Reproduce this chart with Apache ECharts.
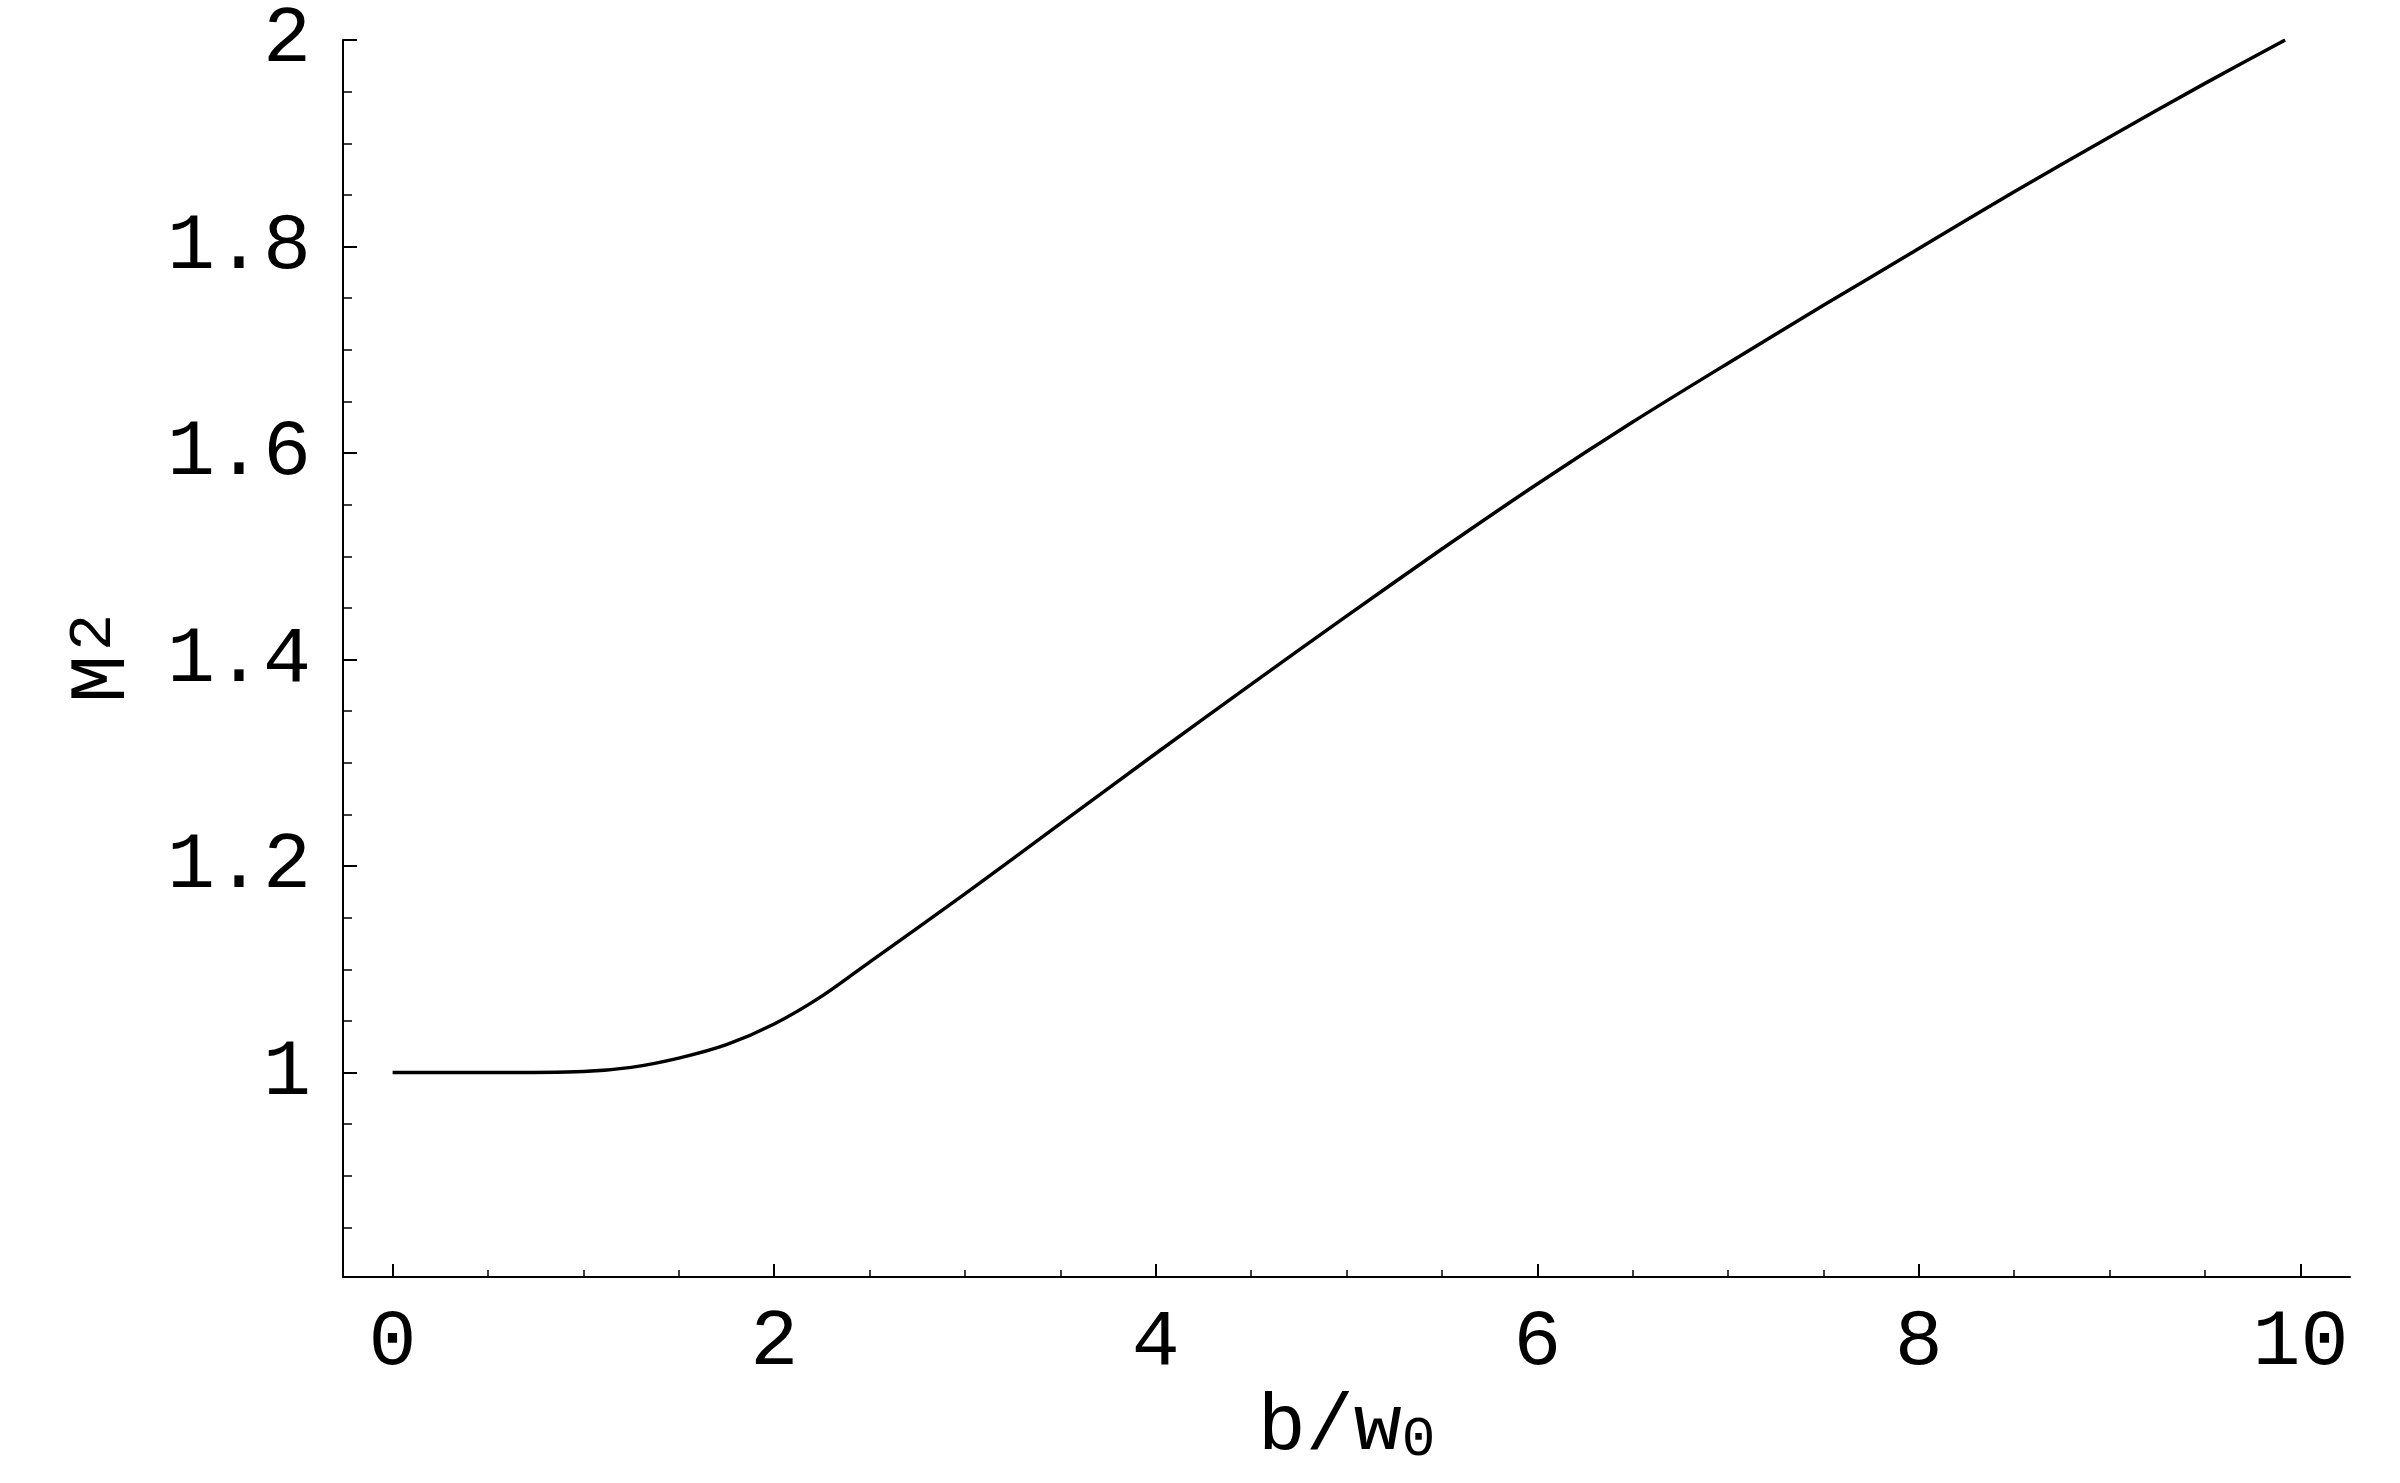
<!DOCTYPE html>
<html>
<head>
<meta charset="utf-8">
<script src="https://cdn.jsdelivr.net/npm/echarts@6/dist/echarts.min.js"></script>
<style>
  html, body { margin: 0; padding: 0; background: #fff; }
  #main { width: 2400px; height: 1483px; }
</style>
</head>
<body>
<div id="main"></div>
<script>
// b/w0 values and M^2
var bw = [0, 0.5, 1, 1.25, 1.5, 1.75, 2, 2.25, 2.5, 3, 3.5, 4, 4.5, 5, 5.5, 6, 6.5, 7, 7.5, 8, 8.5, 9, 9.5, 9.92];
var m2 = [1, 1, 1.001, 1.005, 1.014, 1.027, 1.047, 1.074, 1.107, 1.173, 1.241, 1.309, 1.376, 1.442, 1.507, 1.570, 1.630, 1.687, 1.743, 1.798, 1.853, 1.906, 1.958, 2.0];

var xMajor = [0, 2, 4, 6, 8, 10];
var xMinor = [0.5, 1, 1.5, 2.5, 3, 3.5, 4.5, 5, 5.5, 6.5, 7, 7.5, 8.5, 9, 9.5];
var yMajor = [1, 1.2, 1.4, 1.6, 1.8, 2];
var yLabels = ['1', '1.2', '1.4', '1.6', '1.8', '2'];
var yMinor = [0.85, 0.9, 0.95, 1.05, 1.1, 1.15, 1.25, 1.3, 1.35, 1.45, 1.5, 1.55, 1.65, 1.7, 1.75, 1.85, 1.9, 1.95];

var chart = echarts.init(document.getElementById('main'));
var font = 'Liberation Mono';
var points = bw.map(function (v, i) { return [v, m2[i]]; });

var option = {
    animation: false,
    backgroundColor: '#fff',
    grid: { left: 343, right: 50, top: 37, bottom: 206 },
    xAxis: [
        {
            type: 'value', min: -0.26, max: 10.26, position: 'bottom',
            name: '{n|b/w}{s|0}', nameLocation: 'middle', nameGap: 108,
            nameTextStyle: {
                rich: {
                    n: { fontFamily: font, fontSize: 80, lineHeight: 80, color: '#000' },
                    s: { fontFamily: font, fontSize: 56, lineHeight: 36, verticalAlign: 'bottom', color: '#000' }
                }
            },
            axisLine: { show: true, onZero: false, lineStyle: { color: '#000', width: 2 } },
            axisTick: { show: true, inside: true, length: 13, customValues: xMajor, lineStyle: { color: '#000', width: 2 } },
            axisLabel: { show: true, customValues: xMajor, margin: 26, fontFamily: font, fontSize: 80, color: '#000' },
            splitLine: { show: false }
        },
        {
            type: 'value', min: -0.26, max: 10.26, position: 'bottom', offset: 0,
            axisLine: { show: false, onZero: false },
            axisTick: { show: true, inside: true, length: 7, customValues: xMinor, lineStyle: { color: '#000', width: 1.5 } },
            axisLabel: { show: false },
            splitLine: { show: false }
        }
    ],
    yAxis: [
        {
            type: 'value', min: 0.802, max: 2, position: 'left',
            name: '{m|M}{s|2}', nameLocation: 'middle', nameGap: 200, nameRotate: 90,
            nameMoveOverlap: false,
            nameTextStyle: {
                rich: {
                    m: { fontFamily: font, fontSize: 80, lineHeight: 80, color: '#000' },
                    s: { fontFamily: font, fontSize: 62, lineHeight: 30, verticalAlign: 'top', padding: [0, 0, 0, 4], color: '#000' }
                }
            },
            axisLine: { show: true, onZero: false, lineStyle: { color: '#000', width: 2 } },
            axisTick: { show: true, inside: true, length: 14, customValues: yMajor, lineStyle: { color: '#000', width: 2 } },
            axisLabel: {
                show: true, customValues: yMajor, margin: 32, fontFamily: font, fontSize: 80, color: '#000',
                formatter: function (v) { return yLabels[yMajor.indexOf(v)]; }
            },
            splitLine: { show: false }
        },
        {
            type: 'value', min: 0.802, max: 2, position: 'left', offset: 0,
            axisLine: { show: false, onZero: false },
            axisTick: { show: true, inside: true, length: 9, customValues: yMinor, lineStyle: { color: '#000', width: 1.5 } },
            axisLabel: { show: false },
            splitLine: { show: false }
        }
    ],
    series: [
        {
            type: 'line',
            xAxisIndex: 0,
            yAxisIndex: 0,
            data: points,
            smooth: 0.3,
            showSymbol: false,
            lineStyle: { color: '#000', width: 3.5 }
        }
    ]
};
chart.setOption(option);
</script>
</body>
</html>
